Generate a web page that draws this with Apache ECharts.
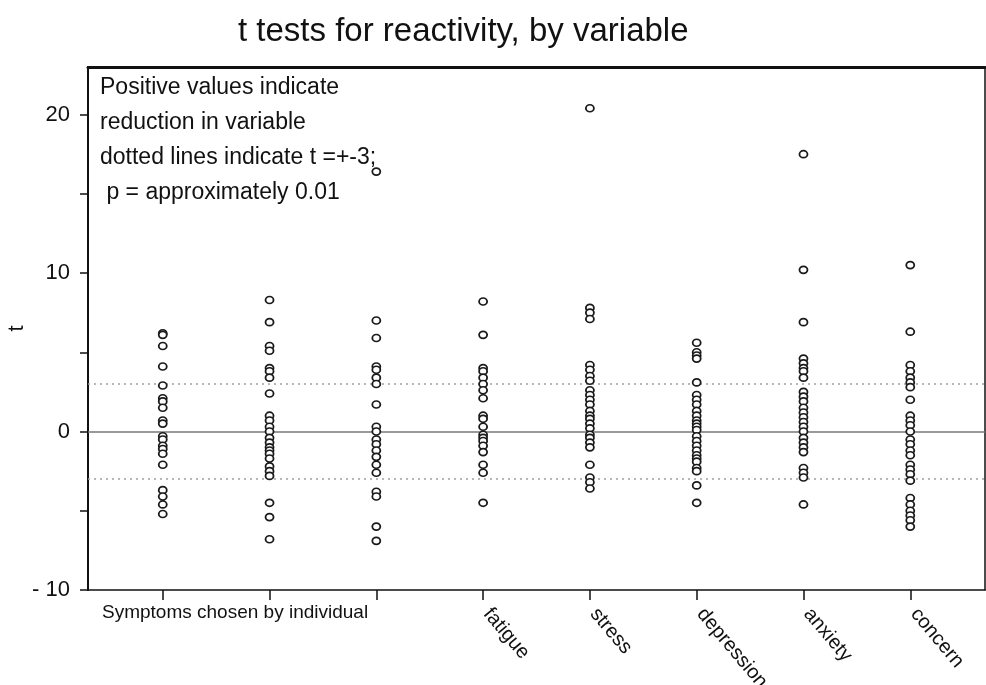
<!DOCTYPE html>
<html>
<head>
<meta charset="utf-8">
<script src="https://cdn.jsdelivr.net/npm/echarts@6/dist/echarts.min.js"></script>
<style>html,body{margin:0;padding:0;background:#fff}#c{width:986px;height:685px}</style>
</head>
<body>
<div id="c"></div>
<script>
const categories = ['', '', '', 'fatigue', 'stress', 'depression', 'anxiety', 'concern'];
const sym1 = [6.2, 6.1, 5.4, 4.1, 2.9, 2.1, 1.9, 1.5, 0.7, 0.5, -0.3, -0.5, -0.9, -1.1, -1.4, -2.1, -3.7, -4.1, -4.6, -5.2];
const sym2 = [8.3, 6.9, 5.4, 5.1, 4.0, 3.8, 3.4, 2.4, 1.0, 0.7, 0.3, 0.0, -0.4, -0.7, -1.0, -1.2, -1.4, -1.7, -2.2, -2.5, -2.8, -4.5, -5.4, -6.8];
const sym3 = [16.4, 7.0, 5.9, 4.1, 3.9, 3.4, 3.0, 1.7, 0.3, 0.0, -0.5, -0.8, -1.2, -1.6, -2.1, -2.6, -3.8, -4.1, -6.0, -6.9];
const fatigue = [8.2, 6.1, 4.0, 3.8, 3.4, 3.0, 2.6, 2.1, 1.0, 0.8, 0.3, -0.2, -0.4, -0.6, -0.9, -1.3, -2.1, -2.6, -4.5];
const stress = [20.4, 7.8, 7.5, 7.1, 4.2, 3.9, 3.5, 3.2, 2.6, 2.3, 2.0, 1.7, 1.3, 1.0, 0.8, 0.5, 0.2, -0.2, -0.4, -0.7, -1.0, -2.1, -2.9, -3.2, -3.6];
const depression = [5.6, 5.0, 4.8, 4.6, 3.1, 2.3, 2.0, 1.7, 1.3, 1.0, 0.7, 0.5, 0.3, 0.1, -0.3, -0.6, -0.9, -1.2, -1.5, -1.7, -1.9, -2.3, -2.5, -3.4, -4.5];
const anxiety = [17.5, 10.2, 6.9, 4.6, 4.3, 4.0, 3.8, 3.4, 2.5, 2.2, 1.9, 1.5, 1.2, 0.9, 0.6, 0.3, 0.0, -0.4, -0.7, -1.0, -1.3, -2.3, -2.6, -2.9, -4.6];
const concern = [10.5, 6.3, 4.2, 3.8, 3.4, 3.1, 2.8, 2.0, 1.0, 0.7, 0.4, 0.0, -0.5, -0.8, -1.2, -1.5, -2.1, -2.4, -2.7, -3.1, -4.2, -4.6, -5.0, -5.3, -5.6, -6.0];
const columns = [sym1, sym2, sym3, fatigue, stress, depression, anxiety, concern];
const xTickValues = [0, 1, 2, 3, 4, 5, 6, 7];
const xLabelValues = [3, 4, 5, 6, 7];
const yTickValues = [-10, -5, 0, 5, 10, 15, 20];
const yLabelValues = [-10, 0, 10, 20];
const zeroLine = 0;
const dottedLines = [3, -3];
const titleText = 't tests for reactivity, by variable';
const noteLines = ['Positive values indicate', 'reduction in variable', 'dotted lines indicate t =+-3;', ' p = approximately 0.01'];
const groupLabel = 'Symptoms chosen by individual';

const FONT = 'Liberation Sans, Arial, sans-serif';
const chart = echarts.init(document.getElementById('c'), null, {renderer: 'canvas'});

const series = columns.map((vals, i) => ({
  type: 'scatter',
  data: vals.map(v => [i, v]),
  symbol: 'circle',
  symbolSize: [8, 7],
  itemStyle: {color: '#fff', borderColor: '#1a1a1a', borderWidth: 1.7, opacity: 1},
  z: 5,
  silent: true
}));
series[0].markLine = {
  silent: true,
  symbol: 'none',
  label: {show: false},
  animation: false,
  z: 1,
  data: [
    {yAxis: zeroLine, lineStyle: {color: '#777', width: 1.5, type: 'solid'}},
    ...dottedLines.map(v => ({yAxis: v, lineStyle: {color: '#a0a0a0', width: 1.6, type: [2, 4]}}))
  ]
};

chart.setOption({
  animation: false,
  backgroundColor: '#fff',
  title: {
    text: titleText, left: 233, top: 10,
    textStyle: {fontFamily: FONT, fontSize: 33, fontWeight: 'normal', color: '#111'}
  },
  grid: {left: 88, top: 67, right: 1, bottom: 95, outerBoundsMode: 'none', containLabel: false},
  xAxis: [{
    type: 'value', min: -0.7, max: 7.7, position: 'bottom',
    axisLine: {show: true, onZero: false, lineStyle: {color: '#111', width: 1.5}},
    axisTick: {show: true, customValues: xTickValues, length: 10, lineStyle: {color: '#111', width: 1.5}},
    axisLabel: {
      show: true, customValues: xLabelValues,
      formatter: v => categories[Math.round(v)],
      rotate: -50, margin: 16, padding: [0, 0, 0, 6], fontSize: 20, fontFamily: FONT, color: '#111'
    },
    splitLine: {show: false}
  }, {
    type: 'value', min: -0.7, max: 7.7, position: 'top',
    axisLine: {show: true, onZero: false, lineStyle: {color: '#111', width: 3}},
    axisTick: {show: false}, axisLabel: {show: false}, splitLine: {show: false}
  }],
  yAxis: [{
    type: 'value', min: -10, max: 23, position: 'left',
    name: 't', nameLocation: 'middle', nameGap: 60, nameRotate: 90, nameMoveOverlap: false,
    nameTextStyle: {fontFamily: FONT, fontSize: 22, color: '#111'},
    axisLine: {show: true, onZero: false, lineStyle: {color: '#111', width: 2}},
    axisTick: {show: true, customValues: yTickValues, length: 8, lineStyle: {color: '#111', width: 1.5}},
    axisLabel: {
      show: true, customValues: yLabelValues,
      formatter: v => v < 0 ? '- ' + Math.abs(v) : String(v),
      margin: 18, fontSize: 22, fontFamily: FONT, color: '#111'
    },
    splitLine: {show: false}
  }, {
    type: 'value', min: -10, max: 23, position: 'right',
    axisLine: {show: true, onZero: false, lineStyle: {color: '#111', width: 1.5}},
    axisTick: {show: false}, axisLabel: {show: false}, splitLine: {show: false}
  }],
  graphic: [{
    type: 'text', left: 100, top: 70, silent: true,
    style: {text: noteLines.join('\n'), font: '23px ' + FONT, fill: '#111', lineHeight: 35}
  }, {
    type: 'text', left: 102, top: 603, silent: true,
    style: {text: groupLabel, font: '19px ' + FONT, fill: '#111'}
  }],
  series: series
});
</script>
</body>
</html>
